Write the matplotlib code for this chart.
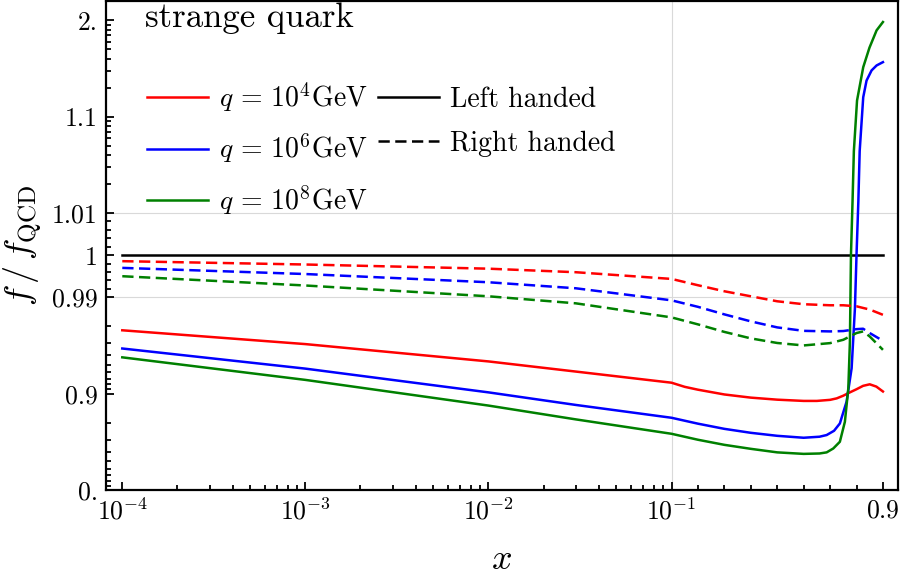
import numpy as np
import matplotlib
matplotlib.use("Agg")
import matplotlib.pyplot as plt
from matplotlib.lines import Line2D

plt.rcParams['font.family'] = 'serif'
plt.rcParams['font.serif'] = ['cmr10', 'DejaVu Serif']
plt.rcParams['mathtext.fontset'] = 'cm'
plt.rcParams['axes.formatter.use_mathtext'] = True

# values
x_grid = [1e-4, 1e-3, 1e-2, 3e-2, 0.1, 0.2, 0.3, 0.4, 0.5, 0.6, 0.7, 0.75, 0.8, 0.825, 0.85, 0.9]
red_right = [0.99857, 0.99778, 0.99679, 0.99595, 0.99436, 0.99286, 0.99143, 0.99024, 0.9890, 0.9882,
             0.9879, 0.9879, 0.9876, 0.9871, 0.9866, 0.9848]
blue_right = [0.99698, 0.99552, 0.99357, 0.99214, 0.98925, 0.98744, 0.98496, 0.98222, 0.97947, 0.9777,
              0.9774, 0.9776, 0.9786, 0.9788, 0.9765, 0.9717]
green_right = [0.9950, 0.9928, 0.99024, 0.98845, 0.98384, 0.9809, 0.97713, 0.9733, 0.9702, 0.9684,
               0.9701, 0.9724, 0.9765, 0.9774, 0.9745, 0.9649]

x_red = [1e-4, 1e-3, 1e-2, 3e-2, 0.1, 0.15, 0.2, 0.3, 0.4, 0.5, 0.6, 0.65, 0.7, 0.725, 0.75, 0.775,
         0.8, 0.825, 0.85, 0.875, 0.9]
red_left = [0.978, 0.9694, 0.9537, 0.941, 0.923, 0.915, 0.909, 0.898, 0.890, 0.8845, 0.881, 0.881,
            0.884, 0.888, 0.895, 0.903, 0.910, 0.917, 0.920, 0.9155, 0.905]

x_blue = [1e-4, 1e-3, 1e-2, 3e-2, 0.1, 0.2, 0.3, 0.4, 0.5, 0.6, 0.66, 0.687, 0.715, 0.737, 0.7625,
          0.7815, 0.794, 0.800, 0.807, 0.812, 0.8254, 0.838, 0.857, 0.876, 0.9]
blue_left = [0.966, 0.945, 0.903, 0.869, 0.822, 0.795, 0.768, 0.745, 0.726, 0.713, 0.72, 0.731, 0.757,
             0.796, 0.879, 0.9455, 0.987, 1.0, 1.0133, 1.044, 1.159, 1.237, 1.302, 1.340, 1.368]

x_green = [1e-4, 1e-3, 1e-2, 3e-2, 0.1, 0.2, 0.3, 0.4, 0.5, 0.6, 0.66, 0.687, 0.712, 0.737, 0.756,
           0.769, 0.775, 0.779, 0.785, 0.790, 0.802, 0.8254, 0.849, 0.876, 0.9]
green_left = [0.958, 0.928, 0.867, 0.815, 0.739, 0.699, 0.660, 0.626, 0.593, 0.578, 0.582, 0.593, 0.629,
              0.684, 0.804, 0.912, 0.971, 1.0, 1.0133, 1.044, 1.147, 1.326, 1.52, 1.787, 1.96]

q_labels = [r'$q\,=\,10^4\mathrm{GeV}$', r'$q\,=\,10^6\mathrm{GeV}$', r'$q\,=\,10^8\mathrm{GeV}$']
colors = ['#ff0000', '#0000ff', '#008000']

x_ticks = [1e-4, 1e-3, 1e-2, 1e-1, 0.9]
x_ticklabels = [r'$10^{-4}$', r'$10^{-3}$', r'$10^{-2}$', r'$10^{-1}$', r'$0.9$']
y_ticks = [0.0, 0.9, 0.99, 1.0, 1.01, 1.1, 2.0]
y_ticklabels = ['0.', '0.9', '0.99', '1', '1.01', '1.1', '2.']

# x axis: log up to 0.1, linear from 0.1 to 0.9
XLIN = 1.4436


def fx(x):
    x = np.asarray(x, float)
    with np.errstate(all='ignore'):
        lg = np.log10(np.where(x > 0, x, 1e-300))
    return np.where(x <= 0.1, lg, -1 + (x - 0.1) * XLIN)


def fx_inv(u):
    u = np.asarray(u, float)
    with np.errstate(all='ignore'):
        return np.where(u <= -1, 10.0 ** np.minimum(u, -1), 0.1 + (u + 1) / XLIN)


# y axis: symmetric log around 1, linear within +-0.01
LT, LS = 0.01, 0.4375


def fy(y):
    d = np.asarray(y, float) - 1
    a = np.abs(d)
    with np.errstate(all='ignore'):
        u = np.where(a <= LT, LS * a / LT, LS + np.log10(np.maximum(a, 1e-300) / LT))
    return np.sign(d) * u


def fy_inv(u):
    u = np.asarray(u, float)
    a = np.abs(u)
    with np.errstate(all='ignore'):
        d = np.where(a <= LS, a / LS * LT, LT * 10.0 ** (a - LS))
    return 1 + np.sign(u) * d


fig = plt.figure(figsize=(9, 5.88), dpi=100)
ax = fig.add_axes([0.1178, 0.1667, 0.8796, 0.8313])
ax.set_xscale('function', functions=(fx, fx_inv))
ax.set_yscale('function', functions=(fy, fy_inv))
ax.set_xlim(8.15e-5, 0.9557)
ax.set_ylim(0.0, 2.58)

# light grid lines
ax.axvline(0.1, color='#d9d9d9', lw=0.8, zorder=0)
for gy in [0.99, 1.01]:
    ax.axhline(gy, color='#d9d9d9', lw=0.8, zorder=0)

lw = 1.8
dash = (0, (4.5, 2.2))
ax.plot([1e-4, 0.9], [1.0, 1.0], color='black', lw=lw)
for xs, ys, c in [(x_red, red_left, colors[0]), (x_blue, blue_left, colors[1]),
                  (x_green, green_left, colors[2])]:
    ax.plot(xs, ys, color=c, lw=lw)
for ys, c in [(red_right, colors[0]), (blue_right, colors[1]), (green_right, colors[2])]:
    ax.plot(x_grid, ys, color=c, lw=lw, linestyle=dash)

# ticks
minor_x = [m * 10.0 ** e for e in range(-4, -1) for m in range(2, 10)]
minor_x += [0.2, 0.3, 0.4, 0.5, 0.6, 0.7, 0.8]
ax.set_xticks(x_ticks)
ax.set_xticklabels(x_ticklabels)
ax.set_xticks(minor_x, minor=True)
minor_y = []
for s in [1, -1]:
    minor_y += [1 + s * k * 0.002 for k in range(1, 5)]
    minor_y += [1 + s * k * 0.01 for k in range(2, 10)]
    minor_y += [1 + s * k * 0.1 for k in range(2, 10)]
ax.set_yticks(y_ticks)
ax.set_yticklabels(y_ticklabels)
ax.set_yticks(minor_y, minor=True)
ax.tick_params(which='both', direction='in', top=False, right=False, width=1.3, labelsize=18.5)
ax.tick_params(which='major', length=6, pad=6)
ax.tick_params(which='minor', length=3.5)
for sp in ax.spines.values():
    sp.set_linewidth(1.6)

ax.set_xlabel(r'$x$', fontsize=26, labelpad=14)
ax.set_ylabel(r'$f\,/\,f_{\mathrm{QCD}}$', fontsize=26, labelpad=6)

ax.text(0.049, 0.965, 'strange quark', transform=ax.transAxes, fontsize=25,
        ha='left', va='center')

handles = [Line2D([], [], color=c, lw=lw) for c in colors]
handles += [Line2D([], [], color='black', lw=lw),
            Line2D([], [], color='black', lw=lw, linestyle=dash)]
labels = q_labels + ['Left handed', 'Right handed']
ax.legend(handles, labels, loc='upper left', bbox_to_anchor=(0.02, 0.89), ncol=2, frameon=False,
          fontsize=20, handlelength=2.2, handletextpad=0.4, labelspacing=0.65, columnspacing=0.35)

fig.savefig('out.png', dpi=100)
